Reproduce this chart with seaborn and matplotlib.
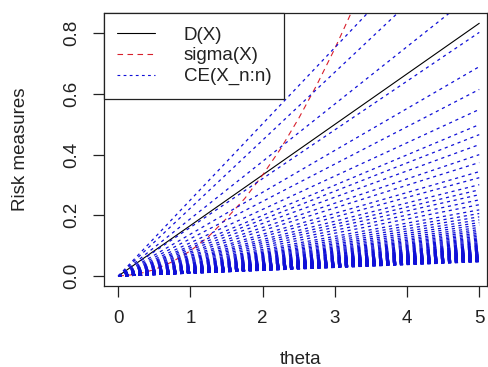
import numpy as np
import pandas as pd
import matplotlib
matplotlib.use("Agg")
import matplotlib.pyplot as plt
from matplotlib.lines import Line2D
import seaborn as sns

# Risk measures as functions of theta
theta_grid = [0.0, 5.0]
d_values = [0.0, 0.833]

sigma_theta = [0.0, 0.25, 0.5, 0.75, 1.0, 1.25, 1.5, 1.75, 2.0, 2.25, 2.5,
               2.75, 3.0, 3.25, 3.5]
sigma_values = [0.0, 0.005, 0.021, 0.047, 0.083, 0.13, 0.19, 0.255, 0.333,
                0.42, 0.52, 0.63, 0.75, 0.88, 1.02]

# CE(X_n:n) curves: value reached at theta = 5 for each n
ce_end_values = [
    1.255, 1.12, 0.945, 0.803, 0.69, 0.615, 0.549, 0.499, 0.466, 0.433,
    0.40, 0.374, 0.344, 0.324, 0.301, 0.284, 0.268, 0.251, 0.235, 0.218,
    0.206, 0.195, 0.185, 0.176, 0.168, 0.160, 0.153, 0.147, 0.141, 0.136,
    0.131, 0.126, 0.122, 0.118, 0.114, 0.110, 0.107, 0.104, 0.101, 0.099,
    0.097, 0.095, 0.093, 0.091, 0.090, 0.088, 0.087, 0.085, 0.084, 0.083,
    0.081, 0.080, 0.079, 0.078, 0.077, 0.076, 0.075, 0.074, 0.073, 0.072,
    0.071, 0.0705, 0.070, 0.069, 0.068, 0.0675, 0.067, 0.066, 0.0655, 0.065,
    0.064, 0.0635, 0.063, 0.0625, 0.062, 0.0615, 0.061, 0.0605, 0.060, 0.0595,
    0.059, 0.0585, 0.058, 0.0575, 0.057, 0.0565, 0.056, 0.0555, 0.055, 0.0545,
    0.054, 0.0535, 0.053, 0.0525, 0.052, 0.0515, 0.051, 0.0505, 0.050, 0.0495,
    0.049, 0.0485, 0.048, 0.0475, 0.047,
]

legend_labels = ["D(X)", "sigma(X)", "CE(X_n:n)"]
x_ticks = [0, 1, 2, 3, 4, 5]
y_ticks = [0.0, 0.2, 0.4, 0.6, 0.8]

sns.set_theme(style="white")
plt.rcParams["font.family"] = ["Liberation Sans", "DejaVu Sans"]

ink = "#222222"
ce_color = "#1010d8"
red = "#d8202c"
fs = 13.5

fig = plt.figure(figsize=(4.88, 3.67), dpi=100)
ax = fig.add_axes([0.2131, 0.2207, 0.7848, 0.7431])

df_d = pd.DataFrame({"theta": theta_grid, "value": d_values})
df_s = pd.DataFrame({"theta": sigma_theta, "value": sigma_values})
rows = []
for i, v in enumerate(ce_end_values):
    rows.append({"line": i, "theta": theta_grid[0], "value": 0.0})
    rows.append({"line": i, "theta": theta_grid[1], "value": v})
df_ce = pd.DataFrame(rows)

sns.lineplot(data=df_d, x="theta", y="value", color="black", lw=0.8,
             estimator=None, ax=ax)
sns.lineplot(data=df_s, x="theta", y="value", color=red, lw=0.8,
             linestyle=(0, (5, 4)), estimator=None, ax=ax)
sns.lineplot(data=df_ce, x="theta", y="value", units="line", estimator=None,
             color=ce_color, lw=0.9, linestyle=(0, (2.5, 3)), ax=ax,
             legend=False)

ax.set_xlim(-0.198, 5.107)
ax.set_ylim(-0.033, 0.866)
ax.set_xticks(x_ticks)
ax.set_yticks(y_ticks)
ax.set_xticklabels([str(t) for t in x_ticks])
ax.set_yticklabels([f"{t:.1f}" for t in y_ticks], rotation=90, va="center")

for s in ax.spines.values():
    s.set_color(ink)
    s.set_linewidth(0.9)
    s.set_visible(True)

ax.tick_params(axis="both", which="major", direction="out", length=8,
               width=0.9, color=ink, labelcolor=ink, labelsize=fs,
               bottom=True, left=True)
ax.tick_params(axis="y", pad=9)
ax.tick_params(axis="x", pad=9)

ax.set_xlabel("theta", fontsize=fs, color=ink)
ax.set_ylabel("Risk measures", fontsize=fs, color=ink)
ax.xaxis.set_label_coords(0.512, -0.268)
ax.xaxis.label.set_va("center")
ax.yaxis.set_label_coords(-0.219, 0.5)
ax.yaxis.label.set_va("center")

handles = [
    Line2D([], [], color="black", lw=0.8),
    Line2D([], [], color=red, lw=0.8, linestyle=(0, (5, 4))),
    Line2D([], [], color=ce_color, lw=0.8, linestyle=(0, (2.5, 3))),
]
leg = ax.legend(handles, legend_labels, loc="upper left",
                bbox_to_anchor=(0, 1), borderaxespad=0, fontsize=fs,
                frameon=True, fancybox=False, framealpha=1,
                edgecolor=ink, handlelength=2.0, handletextpad=1.55,
                borderpad=0.7, labelspacing=0.2)
leg.get_frame().set_linewidth(0.9)
for t in leg.get_texts():
    t.set_color(ink)

fig.savefig("out.png", dpi=100, facecolor="white")
